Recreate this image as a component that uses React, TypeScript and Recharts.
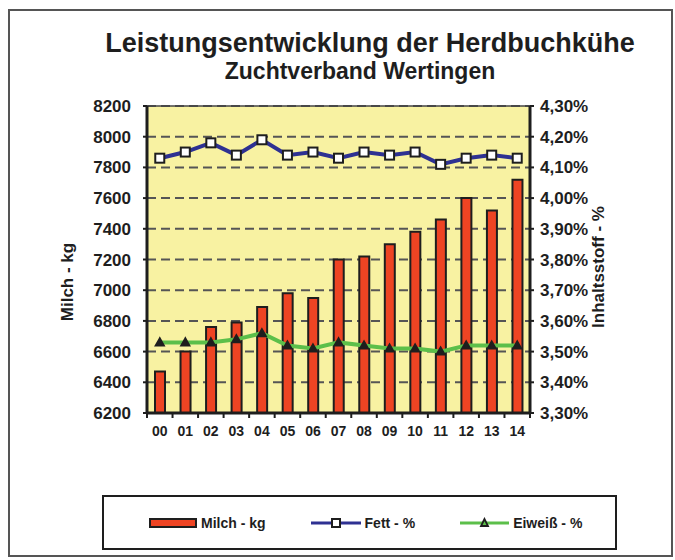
import {
  ComposedChart,
  Bar,
  Line,
  XAxis,
  YAxis,
  CartesianGrid,
  Legend,
  ReferenceLine,
} from "recharts";

const years = ["00", "01", "02", "03", "04", "05", "06", "07", "08", "09", "10", "11", "12", "13", "14"];
const milchKg = [6470, 6600, 6760, 6790, 6890, 6980, 6950, 7200, 7220, 7300, 7380, 7460, 7600, 7520, 7720];
const fettPct = [4.13, 4.15, 4.18, 4.14, 4.19, 4.14, 4.15, 4.13, 4.15, 4.14, 4.15, 4.11, 4.13, 4.14, 4.13];
const eiweissPct = [3.53, 3.53, 3.53, 3.54, 3.56, 3.52, 3.51, 3.53, 3.52, 3.51, 3.51, 3.5, 3.52, 3.52, 3.52];

const milchTicks = [6200, 6400, 6600, 6800, 7000, 7200, 7400, 7600, 7800, 8000, 8200];
const pctTicks = [3.3, 3.4, 3.5, 3.6, 3.7, 3.8, 3.9, 4.0, 4.1, 4.2, 4.3];
const legendOrder = ["milch", "fett", "eiweiss"];

const data = years.map((jahr, i) => ({
  jahr,
  milch: milchKg[i],
  fett: fettPct[i],
  eiweiss: eiweissPct[i],
}));

const FONT = '"Liberation Sans", Arial, sans-serif';
const INK = "#1e1e1e";
const BAR_RED = "#ee4423";
const NAVY = "#2e3192";
const GREEN = "#5cbf4a";

const fmtPct = (v: number) => `${v.toFixed(2).replace(".", ",")}%`;

const SquareDot = (props: any) => {
  const { cx, cy, index } = props;
  return (
    <rect key={`sq-${index}`} x={cx - 4.5} y={cy - 4.5} width={9} height={9} fill="#fff" stroke={INK} strokeWidth={2} />
  );
};

const TriangleDot = (props: any) => {
  const { cx, cy, index } = props;
  return (
    <polygon
      key={`tr-${index}`}
      points={`${cx},${cy - 4} ${cx - 4},${cy + 3} ${cx + 4},${cy + 3}`}
      fill={INK}
      stroke={INK}
      strokeWidth={2}
    />
  );
};

// year label plus the small tick marks that sit between the bars
const YearTick = (props: any) => {
  const { x, y, payload, index, visibleTicksCount } = props;
  const half = payload?.offset || 12.77;
  const axisY = y - 13;
  const last = index === (visibleTicksCount ?? years.length) - 1;
  return (
    <g>
      <line x1={x - half} y1={axisY} x2={x - half} y2={axisY + 5} stroke={INK} strokeWidth={2} />
      {last && <line x1={x + half} y1={axisY} x2={x + half} y2={axisY + 5} stroke={INK} strokeWidth={2} />}
      <text x={x} y={y} dy="0.71em" textAnchor="middle" fontSize={14} fontWeight="bold" fill={INK} fontFamily={FONT}>
        {payload.value}
      </text>
    </g>
  );
};

const legendIcons: Record<string, JSX.Element> = {
  milch: (
    <svg width={48} height={10}>
      <rect x={1} y={1} width={46} height={8} fill={BAR_RED} stroke={INK} strokeWidth={2} />
    </svg>
  ),
  fett: (
    <svg width={50} height={12}>
      <line x1={0} y1={6} x2={50} y2={6} stroke={NAVY} strokeWidth={3} />
      <rect x={21} y={2} width={8} height={8} fill="#fff" stroke={INK} strokeWidth={2} />
    </svg>
  ),
  eiweiss: (
    <svg width={49} height={12}>
      <line x1={0} y1={6} x2={49} y2={6} stroke={GREEN} strokeWidth={3} />
      <polygon points="24.5,2 21,9 28,9" fill={GREEN} stroke={INK} strokeWidth={1.8} />
    </svg>
  ),
};

const LegendBox = (props: any) => {
  const { payload = [] } = props;
  const items = [...payload].sort(
    (a: any, b: any) => legendOrder.indexOf(a.dataKey) - legendOrder.indexOf(b.dataKey)
  );
  return (
    <div
      style={{
        boxSizing: "border-box",
        width: "100%",
        height: "100%",
        border: `2.5px solid ${INK}`,
        display: "flex",
        alignItems: "center",
        paddingLeft: 45,
        gap: 45,
        fontFamily: FONT,
        fontWeight: "bold",
        fontSize: 14,
        color: INK,
      }}
    >
      {items.map((entry: any) => (
        <div key={entry.dataKey} style={{ display: "flex", alignItems: "center", gap: 4 }}>
          {legendIcons[entry.dataKey]}
          <span>{entry.value}</span>
        </div>
      ))}
    </div>
  );
};

export default function App() {
  return (
    <div style={{ position: "absolute", left: 0, top: 0, width: 675, height: 560, background: "#fff" }}>
      <ComposedChart
        width={675}
        height={560}
        data={data}
        margin={{ top: 106, right: 0, bottom: 117, left: 0 }}
        style={{ fontFamily: FONT }}
      >
        <CartesianGrid
          yAxisId="milch"
          vertical={false}
          fill="#f8f2a2"
          fillOpacity={1}
          stroke="#555"
          strokeWidth={2}
          strokeDasharray="9 5"
        />
        <XAxis
          dataKey="jahr"
          height={30}
          tickSize={0}
          tickMargin={13}
          tickLine={false}
          axisLine={{ stroke: INK, strokeWidth: 3 }}
          interval={0}
          tick={<YearTick />}
        />
        <YAxis
          yAxisId="milch"
          orientation="left"
          width={147}
          domain={[6200, 8200]}
          ticks={milchTicks}
          interval={0}
          tickSize={4}
          tickMargin={12}
          tickLine={{ stroke: INK, strokeWidth: 2 }}
          axisLine={{ stroke: INK, strokeWidth: 3 }}
          tick={{ fontSize: 17, fontWeight: "bold", fill: INK, fontFamily: FONT }}
        />
        <YAxis
          yAxisId="pct"
          orientation="right"
          width={145}
          domain={[3.3, 4.3]}
          ticks={pctTicks}
          interval={0}
          tickFormatter={fmtPct}
          tickSize={4}
          tickMargin={6}
          tickLine={{ stroke: INK, strokeWidth: 2 }}
          axisLine={{ stroke: INK, strokeWidth: 3 }}
          tick={{ fontSize: 17, fontWeight: "bold", fill: INK, fontFamily: FONT }}
        />
        <ReferenceLine yAxisId="milch" y={8200} stroke="#444" strokeWidth={1.5} />
        <Bar
          yAxisId="milch"
          dataKey="milch"
          name="Milch - kg"
          barSize={10}
          fill={BAR_RED}
          stroke={INK}
          strokeWidth={2}
          isAnimationActive={false}
        />
        <Line
          yAxisId="pct"
          dataKey="eiweiss"
          name="Eiweiß - %"
          stroke={GREEN}
          strokeWidth={4}
          dot={TriangleDot}
          activeDot={false}
          isAnimationActive={false}
        />
        <Line
          yAxisId="pct"
          dataKey="fett"
          name="Fett - %"
          stroke={NAVY}
          strokeWidth={4}
          dot={SquareDot}
          activeDot={false}
          isAnimationActive={false}
        />
        <Legend
          layout="horizontal"
          verticalAlign="middle"
          align="center"
          content={<LegendBox />}
          wrapperStyle={{ left: 102, top: 495, width: 515, height: 55 }}
        />
      </ComposedChart>
      <svg
        width={675}
        height={560}
        style={{ position: "absolute", left: 0, top: 0, pointerEvents: "none", fontFamily: FONT }}
      >
        <rect x={9} y={10} width={663} height={546} fill="none" stroke="#555" strokeWidth={2} />
        <text x={370} y={52} textAnchor="middle" fontSize={27} fontWeight="bold" fill={INK}>
          Leistungsentwicklung der Herdbuchkühe
        </text>
        <text x={360} y={79} textAnchor="middle" fontSize={23} fontWeight="bold" fill={INK}>
          Zuchtverband Wertingen
        </text>
        <text
          x={73}
          y={282}
          textAnchor="middle"
          fontSize={17}
          fontWeight="bold"
          fill={INK}
          transform="rotate(-90, 73, 282)"
        >
          Milch - kg
        </text>
        <text
          x={604}
          y={267}
          textAnchor="middle"
          fontSize={17}
          fontWeight="bold"
          fill={INK}
          transform="rotate(-90, 604, 267)"
        >
          Inhaltsstoff - %
        </text>
      </svg>
    </div>
  );
}
